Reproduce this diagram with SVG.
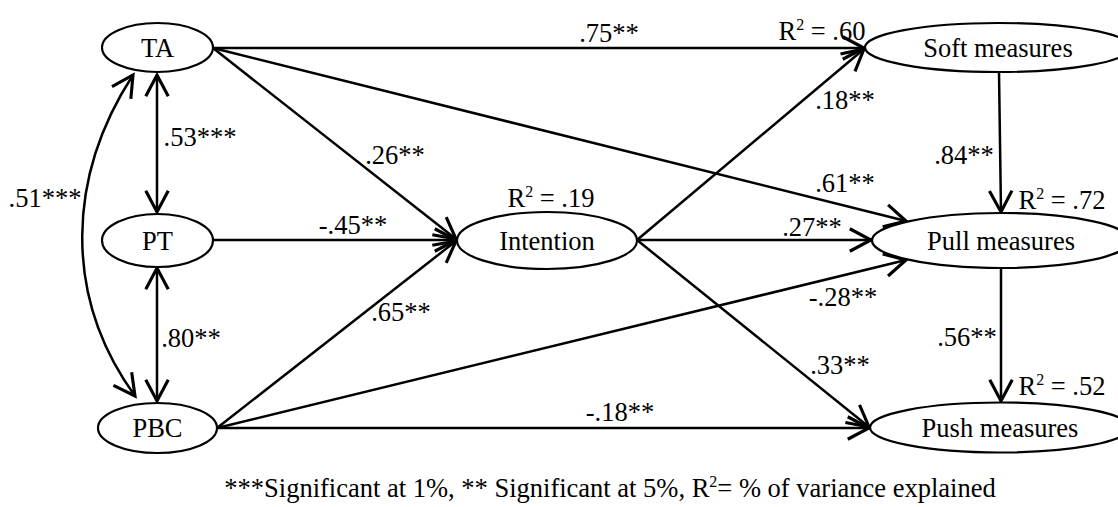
<svg xmlns="http://www.w3.org/2000/svg" width="1118" height="507" viewBox="0 0 1118 507" font-family="'Liberation Serif', 'Times New Roman', serif">
<style>
text{font-family:"Liberation Serif","Times New Roman",serif;font-size:26.5px;fill:#000}
.n text{text-anchor:middle}
.node ellipse{fill:#fff;stroke:#000;stroke-width:2.2}
.lab{text-anchor:middle}
#connectors path,#connectors line{fill:none;stroke:#000;stroke-width:2.5;marker-end:url(#ah)}
#connectors .dbl{marker-start:url(#ah)}
.sup{font-size:16px}
</style>
<defs>
<marker id="ah" markerUnits="userSpaceOnUse" markerWidth="30" markerHeight="30" viewBox="-20 -12 24 24" refX="0" refY="0" orient="auto-start-reverse">
<path d="M-17,-9 L0,0 L-17,9" fill="none" stroke="#000" stroke-width="2.5"/>
</marker>
</defs>
<g id="connectors">
<line x1="213" y1="48" x2="864" y2="48"/>
<line x1="213" y1="48" x2="456" y2="239"/>
<line x1="213" y1="48" x2="906" y2="221"/>
<line x1="213" y1="240" x2="456" y2="240"/>
<line x1="217" y1="428" x2="456" y2="241"/>
<line x1="217" y1="428" x2="906" y2="260"/>
<line x1="217" y1="428" x2="869" y2="428"/>
<line x1="637" y1="240" x2="864" y2="49"/>
<line x1="637" y1="240" x2="871" y2="240"/>
<line x1="637" y1="240" x2="869" y2="427"/>
<line x1="999" y1="72" x2="1001" y2="212"/>
<line x1="1001" y1="268" x2="1001" y2="401"/>
<line class="dbl" x1="157" y1="75" x2="157" y2="212"/>
<line class="dbl" x1="157" y1="268" x2="157" y2="401"/>
<path class="dbl" d="M133,75 C68,175 62,295 135,396"/>
</g>
<g id="TA" class="node n"><ellipse cx="157.5" cy="47.5" rx="55.5" ry="24.5"/><text x="157.5" y="57">TA</text></g>
<g id="PT" class="node n"><ellipse cx="157.5" cy="240.5" rx="55.5" ry="26.5"/><text x="157.5" y="250">PT</text></g>
<g id="PBC" class="node n"><ellipse cx="157.5" cy="428" rx="59.5" ry="25"/><text x="157.5" y="437">PBC</text></g>
<g id="Intention" class="node n"><ellipse cx="547" cy="240.5" rx="90" ry="28.5"/><text x="547" y="250">Intention</text></g>
<g id="Soft" class="node n"><ellipse cx="998" cy="47.5" rx="133" ry="24.5"/><text x="998" y="57">Soft measures</text></g>
<g id="Pull" class="node n"><ellipse cx="1001" cy="240.5" rx="129" ry="27.5"/><text x="1001" y="250">Pull measures</text></g>
<g id="Push" class="node n"><ellipse cx="1000" cy="427.5" rx="130" ry="25"/><text x="1000" y="437">Push measures</text></g>
<g id="labels">
<text class="lab" x="609" y="42">.75**</text>
<text class="lab" x="822" y="40">R<tspan class="sup" dy="-10">2</tspan><tspan dy="10"> = .60</tspan></text>
<text class="lab" x="845" y="109">.18**</text>
<text class="lab" x="395" y="164">.26**</text>
<text class="lab" x="200" y="146">.53***</text>
<text class="lab" x="45" y="207">.51***</text>
<text class="lab" x="353" y="234">-.45**</text>
<text class="lab" x="551" y="207">R<tspan class="sup" dy="-10">2</tspan><tspan dy="10"> = .19</tspan></text>
<text class="lab" x="964" y="164">.84**</text>
<text class="lab" x="845" y="192">.61**</text>
<text class="lab" x="1062" y="209">R<tspan class="sup" dy="-10">2</tspan><tspan dy="10"> = .72</tspan></text>
<text class="lab" x="812" y="236">.27**</text>
<text class="lab" x="401" y="321">.65**</text>
<text class="lab" x="191" y="347">.80**</text>
<text class="lab" x="843" y="306">-.28**</text>
<text class="lab" x="967" y="346">.56**</text>
<text class="lab" x="840" y="374">.33**</text>
<text class="lab" x="1062" y="395">R<tspan class="sup" dy="-10">2</tspan><tspan dy="10"> = .52</tspan></text>
<text class="lab" x="620" y="421">-.18**</text>
<text class="lab" x="610" y="497">***Significant at 1%, ** Significant at 5%, R<tspan class="sup" dy="-10">2</tspan><tspan dy="10">= % of variance explained</tspan></text>
</g>
</svg>
